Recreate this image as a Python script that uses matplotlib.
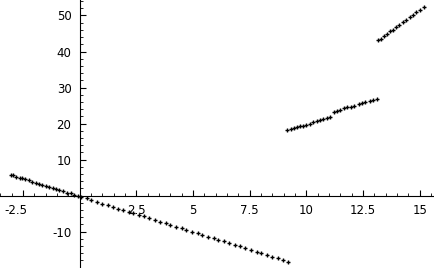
import matplotlib
matplotlib.use("Agg")
import matplotlib.pyplot as plt
import matplotlib.transforms as mtransforms
from matplotlib.ticker import MultipleLocator, FixedLocator

x1 = [-3.05, -2.95, -2.8, -2.65, -2.55, -2.4, -2.25, -2.1, -1.95, -1.8, -1.65, -1.5, -1.35, -1.2, -1.05,
      -0.9, -0.75, -0.55, -0.4, -0.25, -0.1, 0.05, 0.3, 0.5, 0.75, 1.0, 1.25, 1.45, 1.7, 1.9, 2.15, 2.35,
      2.6, 2.85, 3.05, 3.3, 3.55, 3.8, 4.0, 4.25, 4.5, 4.7, 4.95, 5.2, 5.4, 5.65, 5.9, 6.1, 6.35, 6.6,
      6.85, 7.05, 7.3, 7.55, 7.8, 8.0, 8.25, 8.5, 8.75, 8.95, 9.18]
y1 = [5.8, 5.6, 5.3, 5.0, 4.8, 4.5, 4.2, 3.9, 3.6, 3.3, 3.0, 2.7, 2.4, 2.1, 1.8, 1.5, 1.2, 0.8, 0.6,
      0.3, 0.0, -0.3, -0.8, -1.2, -1.7, -2.2, -2.7, -3.1, -3.6, -4.0, -4.5, -4.9, -5.4, -5.8, -6.2,
      -6.7, -7.2, -7.7, -8.1, -8.6, -9.1, -9.5, -10.0, -10.5, -10.9, -11.4, -11.8, -12.2, -12.7,
      -13.2, -13.7, -14.1, -14.6, -15.1, -15.6, -16.0, -16.5, -17.0, -17.4, -17.8, -18.3]

x2 = [9.15, 9.3, 9.45, 9.6, 9.72, 9.85, 10.0, 10.15, 10.3, 10.45, 10.6, 10.75, 10.9, 11.05, 11.2, 11.35,
      11.5, 11.65, 11.8, 11.95, 12.1, 12.3, 12.45, 12.6, 12.8, 12.95, 13.1]
y2 = [18.1, 18.4, 18.7, 19.0, 19.2, 19.4, 19.7, 20.0, 20.3, 20.6, 20.9, 21.2, 21.5, 21.7, 23.3, 23.6,
      23.9, 24.2, 24.5, 24.7, 25.0, 25.4, 25.7, 26.0, 26.3, 26.6, 26.9]

x3 = [13.17, 13.28, 13.4, 13.55, 13.7, 13.82, 13.95, 14.1, 14.25, 14.4, 14.55, 14.7, 14.85, 15.0, 15.18]
y3 = [43.1, 43.6, 44.2, 44.9, 45.6, 46.1, 46.7, 47.4, 48.1, 48.8, 49.5, 50.2, 50.9, 51.6, 52.4]

xticks = [-2.5, 2.5, 5, 7.5, 10, 12.5, 15]
xticklabels = ["-2.5", "2.5", "5", "7.5", "10", "12.5", "15"]
yticks = [-10, 10, 20, 30, 40, 50]
yticklabels = ["-10", "10", "20", "30", "40", "50"]

fig = plt.figure(figsize=(4.35, 2.68), dpi=100)
ax = fig.add_axes([0, 0, 1, 1])
ax.set_xlim(-3.52, 15.67)
ax.set_ylim(-20.1, 54.3)

for xs, ys in [(x1, y1), (x2, y2), (x3, y3)]:
    ax.plot(xs, ys, linestyle="none", marker="+", markersize=3.5, markeredgewidth=1.0, color="black")

for s in ["top", "right"]:
    ax.spines[s].set_visible(False)
ax.spines["left"].set_position(("data", 0))
ax.spines["bottom"].set_position(("data", 0))
ax.spines["left"].set_linewidth(0.8)
ax.spines["bottom"].set_linewidth(0.8)

ax.xaxis.set_major_locator(FixedLocator(xticks))
ax.set_xticklabels(xticklabels)
ax.yaxis.set_major_locator(FixedLocator(yticks))
ax.set_yticklabels(yticklabels)
ax.xaxis.set_minor_locator(MultipleLocator(0.5))
ax.yaxis.set_minor_locator(MultipleLocator(2))

ax.tick_params(which="major", direction="in", length=4, width=0.8, labelsize=8.5, pad=6, colors="black")
ax.tick_params(which="minor", direction="in", length=2, width=0.6)

# negative labels hang their minus sign to the left, as in the reference
shift = mtransforms.ScaledTranslation(-5 / 72, 0, fig.dpi_scale_trans)
for lab in ax.get_xticklabels():
    if lab.get_text().startswith("-"):
        lab.set_transform(lab.get_transform() + shift)

fig.savefig("out.png", dpi=100)
